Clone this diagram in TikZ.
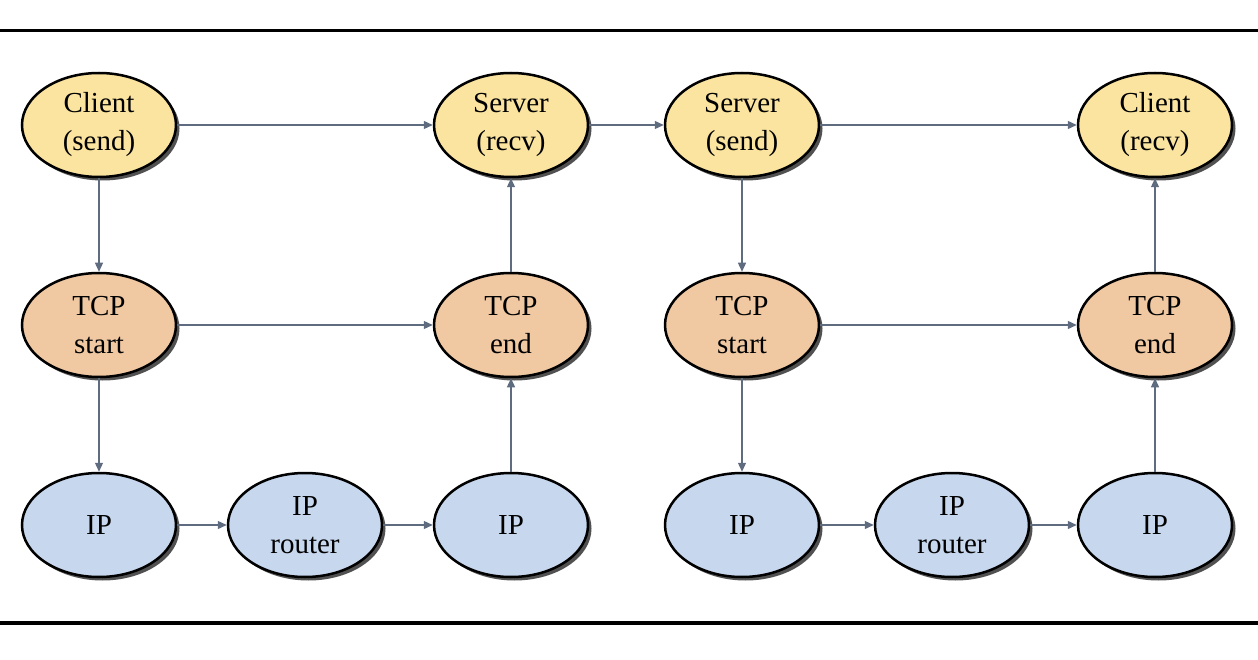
\documentclass[tikz,border=0pt]{standalone}
\usepackage{fontspec}
\setmainfont{Liberation Serif}
\usetikzlibrary{shadows,arrows.meta,shapes.geometric}
\definecolor{ylw}{RGB}{250,228,160}
\definecolor{tan}{RGB}{240,200,162}
\definecolor{blu}{RGB}{198,215,238}
\definecolor{edge}{RGB}{95,108,128}
\begin{document}
\begin{tikzpicture}[x=1pt,y=-1pt,
  nd/.style={ellipse,draw=black,line width=2.5pt,minimum width=154pt,minimum height=104pt,
    inner sep=0pt,align=center,font=\fontsize{29}{38}\selectfont,
    drop shadow={shadow xshift=3.5pt,shadow yshift=-3.5pt,opacity=0.8,fill=black!85}},
  yn/.style={nd,fill=ylw},
  tn/.style={nd,fill=tan},
  bn/.style={nd,fill=blu},
  ar/.style={draw=edge,line width=1.3pt,-{Triangle[length=9pt,width=8pt]}}]
\useasboundingbox (0,0) rectangle (1258,660);
\fill[white] (0,0) rectangle (1258,660);
\draw[line width=3pt] (0,31) -- (1258,31);
\draw[line width=4pt] (0,623) -- (1258,623);
% left half
\node[yn] (c1) at (99,125) {Client\\(send)};
\node[yn] (s1) at (511,125) {Server\\(recv)};
\node[tn] (t1) at (99,325) {TCP\\start};
\node[tn] (e1) at (511,325) {TCP\\end};
\node[bn] (i1) at (99,525) {IP};
\node[bn] (r1) at (305,525) {IP\\router};
\node[bn] (j1) at (511,525) {IP};
% right half
\node[yn] (s2) at (742,125) {Server\\(send)};
\node[yn] (c2) at (1155,125) {Client\\(recv)};
\node[tn] (t2) at (742,325) {TCP\\start};
\node[tn] (e2) at (1155,325) {TCP\\end};
\node[bn] (i2) at (742,525) {IP};
\node[bn] (r2) at (952,525) {IP\\router};
\node[bn] (j2) at (1155,525) {IP};
% edges
\draw[ar] (c1) -- (s1);
\draw[ar] (s1) -- (s2);
\draw[ar] (s2) -- (c2);
\draw[ar] (c1) -- (t1);
\draw[ar] (t1) -- (e1);
\draw[ar] (t1) -- (i1);
\draw[ar] (i1) -- (r1);
\draw[ar] (r1) -- (j1);
\draw[ar] (j1) -- (e1);
\draw[ar] (e1) -- (s1);
\draw[ar] (s2) -- (t2);
\draw[ar] (t2) -- (e2);
\draw[ar] (t2) -- (i2);
\draw[ar] (i2) -- (r2);
\draw[ar] (r2) -- (j2);
\draw[ar] (j2) -- (e2);
\draw[ar] (e2) -- (c2);
\end{tikzpicture}
\end{document}
